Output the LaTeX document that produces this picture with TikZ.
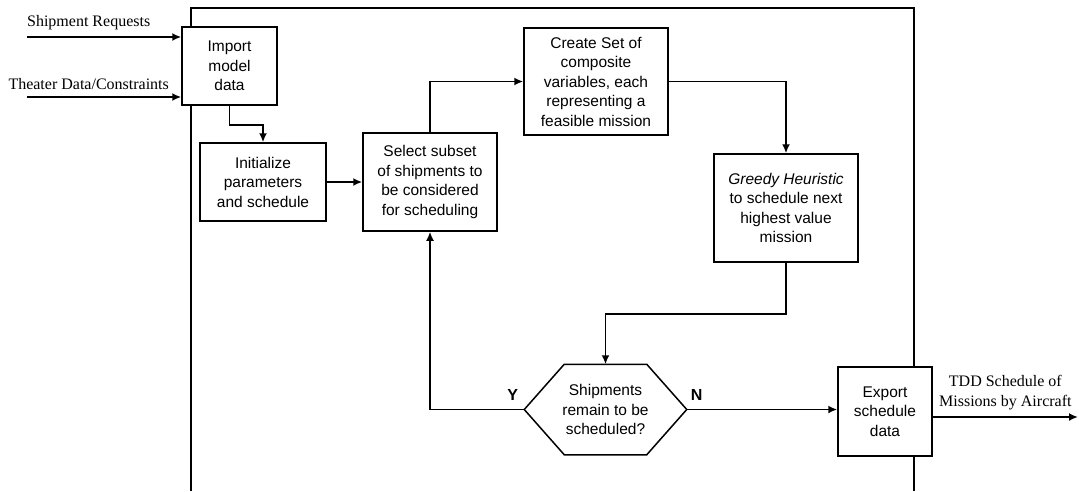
\documentclass[tikz,border=0pt]{standalone}
\usepackage{fontspec}
\setmainfont{Liberation Serif}
\setsansfont{Liberation Sans}
\usetikzlibrary{arrows.meta,positioning,calc}

\begin{document}
\begin{tikzpicture}[x=1pt, y=-1pt,
  box/.style={draw, line width=1.5pt, fill=white, align=center, inner sep=2pt,
              font=\sffamily\fontsize{15.5}{19.5}\selectfont},
  flow/.style={-{Latex[length=9pt,width=8pt]}, line width=1.8pt},
  iolbl/.style={font=\fontsize{16}{20}\selectfont, align=center},
  yn/.style={font=\sffamily\bfseries\fontsize{16}{18}\selectfont, inner sep=0pt},
]
\useasboundingbox (0,0) rectangle (1079,491);

%% ---- outer frame (open at the bottom) ----
\draw[line width=1.5pt] (191,491) -- (191,8) -- (914,8) -- (914,491);

%% ---- process boxes ----
\node[box, minimum width=95pt, minimum height=78pt] (imp) at (229.5,66)
  {Import\\model\\data};
\node[box, minimum width=126pt, minimum height=78pt] (init) at (263,182)
  {Initialize\\parameters\\and schedule};
\node[box, minimum width=134pt, minimum height=98pt] (sel) at (430,182)
  {Select subset\\of shipments to\\be considered\\for scheduling};
\node[box, minimum width=144pt, minimum height=107pt] (create) at (596,81.5)
  {Create Set of\\composite\\variables, each\\representing a\\feasible mission};
\node[box, minimum width=144pt, minimum height=108pt] (greedy) at (786,208)
  {\textit{Greedy Heuristic}\\to schedule next\\highest value\\mission};
\node[box, minimum width=94pt, minimum height=89pt] (export) at (885,411.5)
  {Export\\schedule\\data};

%% ---- decision (hexagon) ----
\node[box, draw=none, fill=none, minimum width=161pt, minimum height=89pt] (hex)
  at (605.5,409.5) {Shipments\\remain to be\\scheduled?};
\draw[line width=1.5pt] (hex.west) -- ([xshift=40pt]hex.north west)
  -- ([xshift=-40pt]hex.north east) -- (hex.east)
  -- ([xshift=-40pt]hex.south east) -- ([xshift=40pt]hex.south west) -- cycle;
\node[yn, above left=9pt and 6pt of hex.west] (yes) {Y};
\node[yn, above right=9pt and 4pt of hex.east] (no) {N};

%% ---- inputs and output ----
\coordinate (req) at (27,37);
\coordinate (thr) at (27,97);
\coordinate (out) at (1078,417);
\draw[flow] (req) -- (req -| imp.west)
  node[pos=0.4, above=3pt, iolbl] {Shipment Requests};
\draw[flow] (thr) -- (thr -| imp.west)
  node[pos=0.4, above=3pt, iolbl] {Theater Data/Constraints};
\draw[flow] (export.east |- out) -- (out)
  node[midway, above=3pt, iolbl] {TDD Schedule of\\Missions by Aircraft};

%% ---- flow between steps ----
\draw[flow] (imp.south) -- ++(0,19) -| (init.north);
\draw[flow] (init.east) -- (sel.west);
\draw[flow] (sel.north) |- (create.west);
\draw[flow] (create.east) -| (greedy.north);
\draw[flow] (greedy.south) -- ++(0,51) -| (hex.north);
\draw[flow] (hex.west) -| (sel.south);
\draw[flow] (hex.east) -- (hex.east -| export.west);

\end{tikzpicture}
\end{document}
